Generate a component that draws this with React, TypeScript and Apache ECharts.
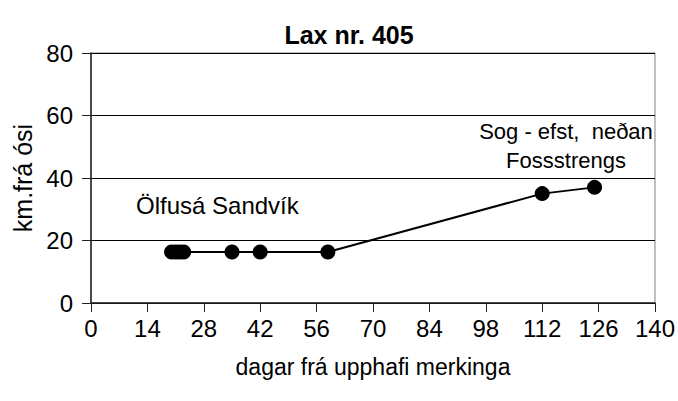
import React, { useEffect, useRef } from "react";
import * as echarts from "echarts";

const days = [20, 21, 22, 23, 35, 42, 58.8, 112, 125];
const km = [16.3, 16.3, 16.3, 16.3, 16.3, 16.3, 16.3, 35, 37];
const titleText = "Lax nr. 405";
const xName = "dagar frá upphafi merkinga";
const yName = "km.frá ósi";
const noteLower = "Ölfusá Sandvík";
const noteUpper = ["Sog - efst,  neðan", "Fossstrengs"];

const FONT = "'Liberation Sans', Arial, sans-serif";

export default function App() {
  const ref = useRef<HTMLDivElement>(null);
  useEffect(() => {
    if (!ref.current) return;
    const chart = echarts.init(ref.current, null, { renderer: "svg" });
    chart.setOption({
      animation: false,
      backgroundColor: "#ffffff",
      textStyle: { fontFamily: FONT },
      title: {
        text: titleText,
        left: 344,
        top: 17,
        textAlign: "center",
        textStyle: { fontFamily: FONT, fontWeight: "bold", fontSize: 25, color: "#000" },
      },
      grid: {
        left: 91,
        right: 23,
        top: 53,
        bottom: 98,
        show: true,
        borderColor: "#808080",
        borderWidth: 1,
      },
      xAxis: {
        type: "value",
        min: 0,
        max: 140,
        interval: 14,
        name: xName,
        nameLocation: "middle",
        nameGap: 52,
        nameTextStyle: { fontFamily: FONT, fontSize: 23, color: "#000" },
        axisLine: { show: true, lineStyle: { color: "#222", width: 1.5 } },
        axisTick: { show: true, inside: false, length: 9, lineStyle: { color: "#222" } },
        axisLabel: { margin: 13, fontFamily: FONT, fontSize: 24, color: "#000" },
        splitLine: { show: false },
      },
      yAxis: {
        type: "value",
        min: 0,
        max: 80,
        interval: 20,
        name: yName,
        nameLocation: "middle",
        nameGap: 51,
        nameRotate: 90,
        nameTextStyle: { fontFamily: FONT, fontSize: 25, color: "#000" },
        axisLine: { show: true, lineStyle: { color: "#222", width: 1.5 } },
        axisTick: { show: true, inside: false, length: 9, lineStyle: { color: "#222" } },
        axisLabel: { margin: 18, fontFamily: FONT, fontSize: 24, color: "#000" },
        splitLine: { show: true, lineStyle: { color: "#000", width: 1 } },
      },
      graphic: [
        {
          type: "text",
          left: 136,
          top: 193,
          style: { text: noteLower, fontFamily: FONT, fontSize: 24, fill: "#000" },
        },
        {
          type: "text",
          x: 566,
          y: 117,
          style: {
            text: noteUpper.join("\n"),
            fontFamily: FONT,
            fontSize: 22,
            lineHeight: 29,
            fill: "#000",
            align: "center",
          },
        },
      ],
      series: [
        {
          type: "line",
          data: days.map((d, i) => [d, km[i]]),
          symbol: "circle",
          symbolSize: 15,
          itemStyle: { color: "#000" },
          lineStyle: { color: "#000", width: 2 },
          z: 5,
        },
      ],
    });
    return () => chart.dispose();
  }, []);
  return (
    <div
      ref={ref}
      style={{ position: "absolute", left: 0, top: 0, width: 678, height: 401 }}
    />
  );
}
